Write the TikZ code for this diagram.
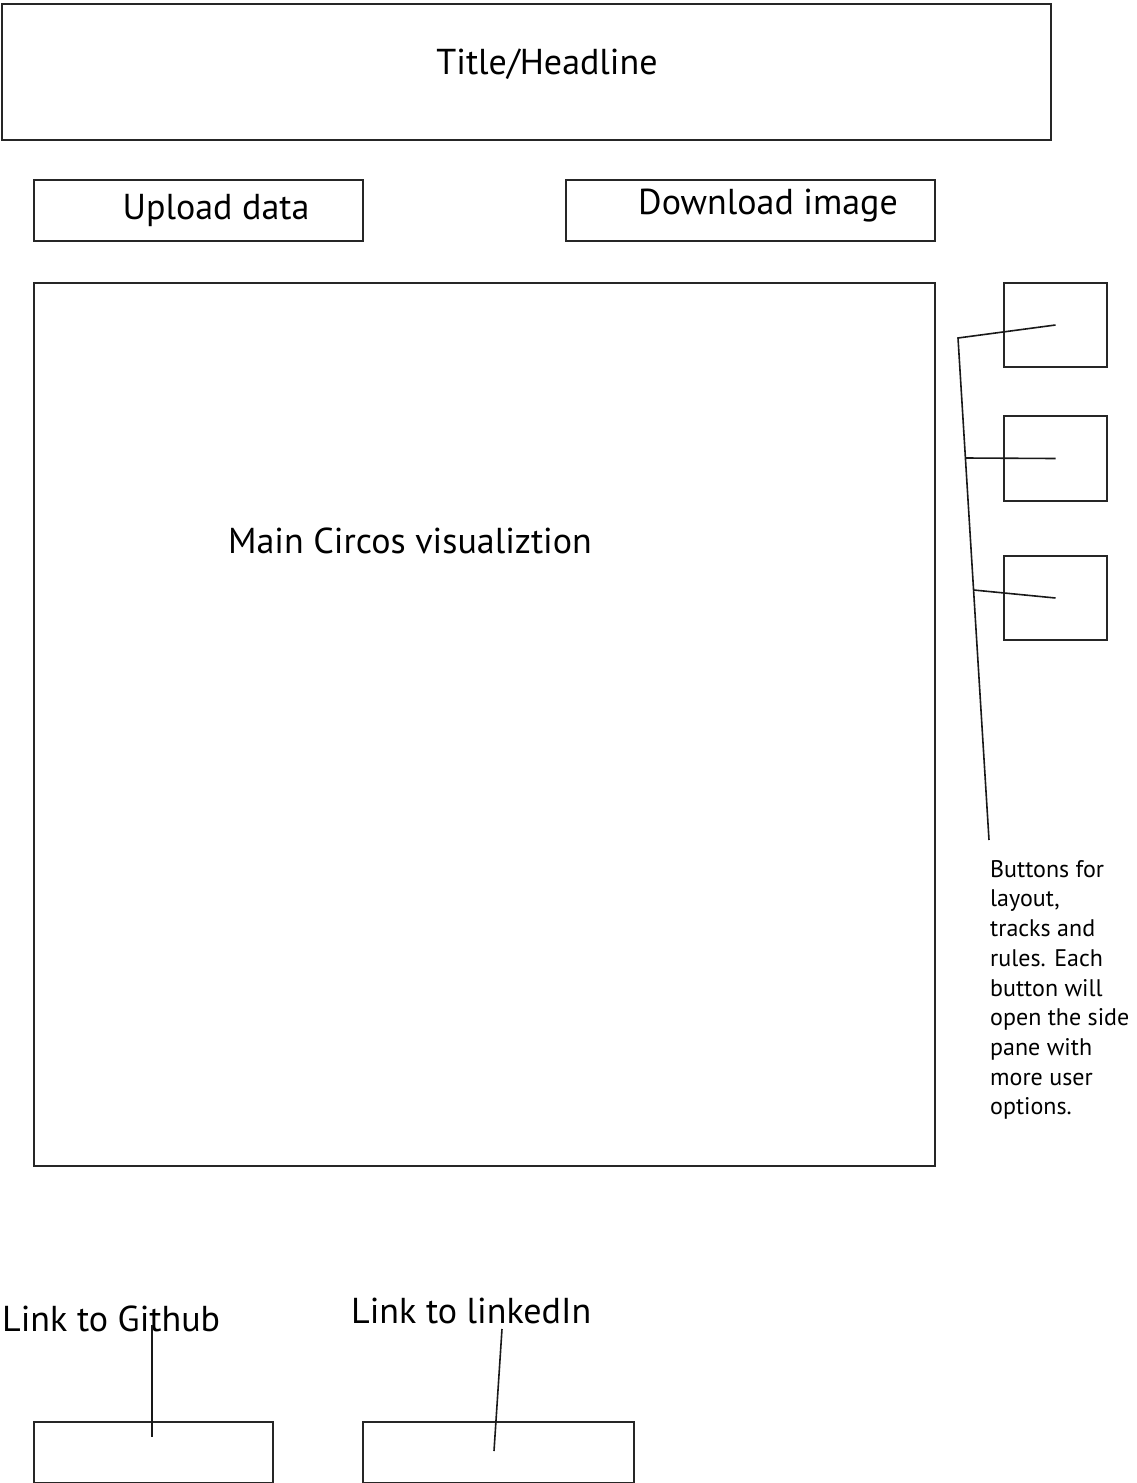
\documentclass[tikz,border=0pt]{standalone}
\usepackage{fontspec}
\setmainfont{PT Sans}
\begin{document}
\begin{tikzpicture}[x=1pt,y=-1pt,
  box/.style={draw=black!85,line width=2pt,inner sep=0pt,anchor=north west},
  wire/.style={draw=black!90,line width=1.6pt},
  big/.style={font=\fontsize{36}{40}\selectfont,inner sep=0pt,anchor=base},
  small/.style={font=\fontsize{24}{29.7}\selectfont,inner sep=0pt,align=left}]
\useasboundingbox (0,0) rectangle (1137,1483);
% boxes
\node[box,minimum width=1049pt,minimum height=136pt] (title) at (1,3) {};
\node[box,minimum width=329pt,minimum height=61pt] (upload) at (33,179) {};
\node[box,minimum width=369pt,minimum height=61pt] (download) at (565,179) {};
\node[box,minimum width=901pt,minimum height=883pt] (main) at (33,282) {};
\node[box,minimum width=103pt,minimum height=84pt] (b1) at (1003,282) {};
\node[box,minimum width=103pt,minimum height=85pt] (b2) at (1003,415) {};
\node[box,minimum width=103pt,minimum height=84pt] (b3) at (1003,555) {};
\node[box,minimum width=239pt,minimum height=61pt] (gh) at (33,1421) {};
\node[box,minimum width=271pt,minimum height=61pt] (li) at (362,1421) {};
% texts
\node[big] (titletxt) at (547,74) {Title/Headline};
\node[big] (uploadtxt) at (216,219) {Upload data};
\node[big] (downloadtxt) at (768,214) {Download image};
\node[big] (maintxt) at (410,553) {Main Circos visualiztion};
\node[big,anchor=base west] (ghtxt) at (2,1331) {Link to Github};
\node[big,anchor=base west] (litxt) at (351,1323) {Link to linkedIn};
\node[small,anchor=north west] (note) at (990,860) {Buttons for\\layout,\\tracks and\\rules. Each\\button will\\open the side\\pane with\\more user\\options.};
% connectors
\coordinate (top) at (958,338);
\coordinate (bot) at (989,840);
\coordinate (j2) at (965.4,458);
\coordinate (j3) at (973.6,590);
\draw[wire] (b1.center) -- (top) -- (bot);
\draw[wire] (j2) -- (b2.center);
\draw[wire] (j3) -- (b3.center);
\coordinate (ghs) at (152,1325);
\coordinate (ghe) at (152,1437);
\draw[wire] (ghs) -- (ghe);
\coordinate (lis) at (502,1329);
\coordinate (lie) at (494,1451);
\draw[wire] (lis) -- (lie);
\end{tikzpicture}
\end{document}
